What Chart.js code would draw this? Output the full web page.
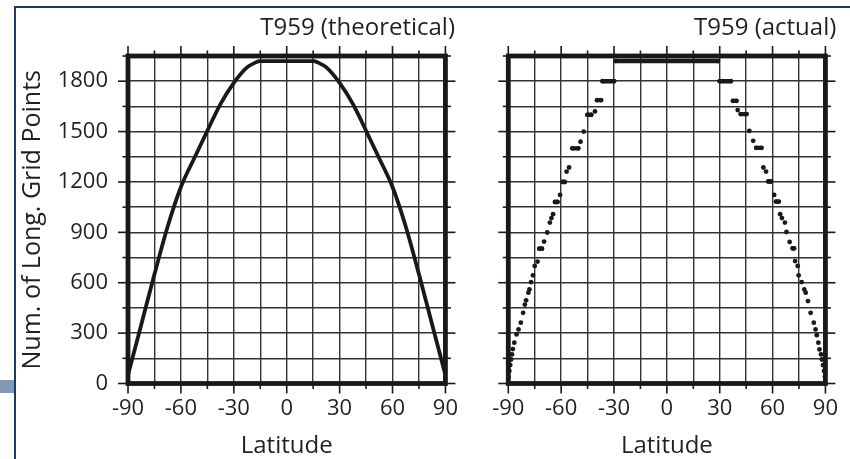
<!DOCTYPE html>
<html>
<head>
<meta charset="utf-8">
<script src="https://cdn.jsdelivr.net/npm/chart.js@4.4.1/dist/chart.umd.min.js"></script>
<style>
  html, body { margin: 0; padding: 0; background: #fff; }
  body { width: 850px; height: 459px; position: relative; overflow: hidden; }
  .rule-top { position: absolute; left: 15px; top: 6px; width: 835px; height: 2px; background: #1f3864; }
  .rule-left { position: absolute; left: 14px; top: 6px; width: 2px; height: 453px; background: #1f3864; }
  .tab { position: absolute; left: 0; top: 380px; width: 14px; height: 13px; background: #8397b8; }
  canvas { position: absolute; top: 0; }
  #theo { left: 0; }
  #act { left: 470px; }
</style>
</head>
<body>
<div class="rule-top"></div>
<div class="rule-left"></div>
<div class="tab"></div>
<canvas id="theo" width="470" height="459"></canvas>
<canvas id="act" width="380" height="459"></canvas>
<script>
// Theoretical number of longitude points along the T959 reduced grid
const theoLat = [-89.9, -87.5, -82.5, -75.0, -67.5, -60.0, -52.5, -45.0, -37.5, -30.0, -22.5, -17.5, -15.5,
                  15.5, 17.5, 22.5, 30.0, 37.5, 45.0, 52.5, 60.0, 67.5, 75.0, 82.5, 87.5, 89.9];
const theoVal = [55, 150, 350, 650, 935, 1170, 1340, 1505, 1665, 1790, 1882, 1912, 1920,
                 1920, 1912, 1882, 1790, 1665, 1505, 1340, 1170, 935, 650, 350, 150, 55];

// Actual number of longitude points per latitude (runs of equal values form bars)
const actLat = [
  -89.8, -89.4, -88.9, -88.4, -87.9, -87.4, -86.6, -85.3, -84.2, -82.9, -81.6, -80.6, -79.9, -78.6, -78.0,
  -77.1, -76.0, -75.0, -73.4, -72.4, -70.9, -69.7, -67.9, -66.4, -65.5, -64.6, -63.5, -62.1, -60.6, -59.1,
  -58.0, -56.9, -55.5, -53.6, -50.3, -49.0, -47.2, -45.1, -42.9, -40.8, -39.6, -37.4, -36.5, -30.0,
  -29.0, 29.0,
  30.0, 36.3, 37.5, 39.5, 40.2, 41.9, 45.2, 46.8, 49.0, 50.7, 53.7, 54.8, 56.3, 57.6, 59.1, 60.9, 62.0,
  63.5, 64.3, 65.3, 67.0, 67.9, 69.7, 71.4, 72.2, 72.8, 74.3, 74.8, 76.5, 78.0, 78.8, 80.1, 81.6, 83.4,
  84.4, 85.1, 86.0, 86.6, 87.5, 88.0, 88.6, 89.2, 89.7
];
const actVal = [
  40, 75, 110, 143, 173, 205, 243, 292, 322, 362, 421, 470, 495, 541, 560,
  604, 644, 700, 726, 803, 803, 845, 899, 958, 985, 1008, 1081, 1081, 1123, 1200,
  1200, 1262, 1286, 1400, 1400, 1440, 1500, 1600, 1600, 1620, 1687, 1687, 1800, 1800,
  1920, 1920,
  1800, 1800, 1683, 1683, 1628, 1604, 1604, 1504, 1445, 1403, 1403, 1286, 1262, 1203, 1203, 1123, 1083,
  1083, 1008, 985, 958, 902, 843, 805, 805, 729, 700, 644, 604, 560, 541, 491, 421, 362,
  322, 288, 243, 203, 173, 143, 110, 75, 40
];

const latTicks = [-90, -60, -30, 0, 30, 60, 90];
const countTicks = [0, 300, 600, 900, 1200, 1500, 1800];

const INK = '#1a1818';
const TEXT = '#231f20';
const GRID = '#333333';
const FONT = "'Open Sans', 'Noto Sans', sans-serif";

// Heavy frame plus outward major/minor tick marks on all four sides
const frameTicks = {
  id: 'frameTicks',
  afterDatasetsDraw(chart) {
    const { ctx, chartArea: a, scales: { x, y } } = chart;
    ctx.save();
    ctx.strokeStyle = INK;
    ctx.lineCap = 'butt';
    ctx.lineWidth = 1.6;
    const seg = (x0, y0, x1, y1) => { ctx.beginPath(); ctx.moveTo(x0, y0); ctx.lineTo(x1, y1); ctx.stroke(); };
    x.ticks.forEach(t => {
      const px = x.getPixelForValue(t.value);
      const len = latTicks.includes(t.value) ? 10 : 5.5;
      seg(px, a.top, px, a.top - len);
      seg(px, a.bottom, px, a.bottom + len);
    });
    y.ticks.forEach(t => {
      const py = y.getPixelForValue(t.value);
      const len = countTicks.includes(t.value) ? 10 : 5.5;
      seg(a.left, py, a.left - len, py);
      seg(a.right, py, a.right + len, py);
    });
    ctx.lineWidth = 4.8;
    ctx.strokeRect(a.left, a.top, a.right - a.left, a.bottom - a.top);
    ctx.restore();
  }
};

function xScale() {
  return {
    type: 'linear', min: -90, max: 90,
    afterFit: s => { s.height = 75.5; },
    border: { display: false },
    grid: { color: GRID, lineWidth: 1.4, drawTicks: false },
    ticks: {
      stepSize: 15, autoSkip: false, maxRotation: 0, padding: 12,
      color: TEXT, font: { family: FONT, size: 22 },
      callback: v => latTicks.includes(v) ? String(v) : ''
    },
    title: {
      display: true, text: 'Latitude', color: TEXT,
      font: { family: FONT, size: 24 }, padding: { top: 0, bottom: -2 }
    }
  };
}

function yScale(width, showLabels) {
  return {
    type: 'linear', min: 0, max: 1950,
    afterFit: s => { s.width = width; },
    border: { display: false },
    grid: { color: GRID, lineWidth: 1.4, drawTicks: false },
    ticks: {
      display: showLabels, stepSize: 150, autoSkip: false, padding: 20,
      color: TEXT, font: { family: FONT, size: 22 },
      callback: v => countTicks.includes(v) ? String(v) : ''
    },
    title: {
      display: showLabels, text: 'Num. of Long. Grid Points', color: TEXT,
      font: { family: FONT, size: 25 }, padding: { top: 18, bottom: 0 }
    }
  };
}

function titleOpts(text) {
  return {
    display: true, text, align: 'end', color: TEXT,
    font: { family: FONT, size: 24, weight: 'normal' },
    padding: { top: 14, bottom: 13.2 }
  };
}

new Chart(document.getElementById('theo'), {
  type: 'line',
  data: {
    datasets: [{
      data: theoLat.map((lat, i) => ({ x: lat, y: theoVal[i] })),
      borderColor: INK, borderWidth: 3.8, pointRadius: 0,
      cubicInterpolationMode: 'monotone', fill: false
    }]
  },
  options: {
    responsive: false, animation: false,
    layout: { padding: { left: 0, right: 15, top: 0, bottom: 0 } },
    plugins: { legend: { display: false }, tooltip: { enabled: false }, title: titleOpts('T959 (theoretical)') },
    scales: { x: xScale(), y: yScale(128, true) }
  },
  plugins: [frameTicks]
});

new Chart(document.getElementById('act'), {
  type: 'line',
  data: {
    datasets: [{
      data: actLat.map((lat, i) => ({ x: lat, y: actVal[i] })),
      borderColor: INK, borderWidth: 4.4, borderCapStyle: 'round',
      pointRadius: 2.4, pointBorderWidth: 0, pointBackgroundColor: INK,
      segment: {
        borderColor: c => (c.p0.parsed.y === c.p1.parsed.y ? INK : 'rgba(0,0,0,0)')
      },
      fill: false
    }]
  },
  options: {
    responsive: false, animation: false,
    layout: { padding: { left: 0, right: 13.7, top: 0, bottom: 0 } },
    plugins: { legend: { display: false }, tooltip: { enabled: false }, title: titleOpts('T959 (actual)') },
    scales: { x: xScale(), y: yScale(38.3, false) }
  },
  plugins: [frameTicks]
});
</script>
</body>
</html>
